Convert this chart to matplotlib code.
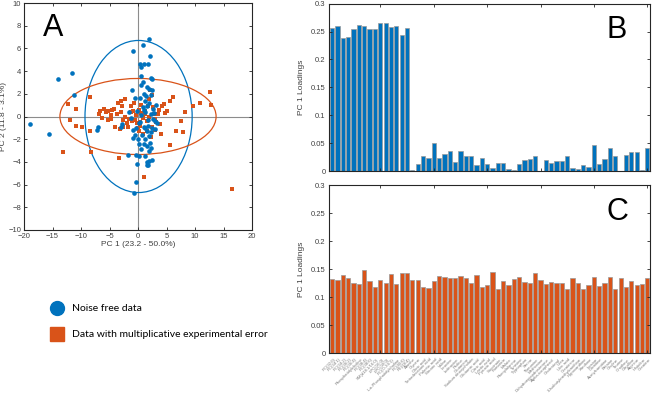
import matplotlib
matplotlib.use("Agg")
import matplotlib.pyplot as plt
from matplotlib.patches import Ellipse
from matplotlib.lines import Line2D
import numpy as np

plt.rcParams['font.family'] = ['Liberation Sans', 'DejaVu Sans']

BLUE = '#0072BD'
ORANGE = '#D95319'
AXC = '#262626'

# ---------------- data ----------------
blue_x = [-19.0, -15.6, -14.1, -11.6, -11.3, -7.1, -7.2, -2.8, -3.0,
          2.0, 0.9, -0.8, 2.1, 0.3, 1.0, 1.8, 0.5, 0.6, 2.2, 2.4, 1.5, 2.0, 2.5, -1.0,
          2.3, 1.0, 0.4, 1.2, 2.0, -0.5, 1.6, 0.8, 2.6, -0.2, 1.3, 2.2, 0.5, -1.2,
          1.8, 2.9, 0.2, 1.0, 2.4, -0.3, 1.5, 3.0, 0.7, 2.0, -0.8, 1.2, 0.2, 1.0,
          2.1, 1.6, 2.3, 0.6, 1.9, -1.8, -0.3, 0.1, 1.3, 2.4, 2.0, 1.6, -0.1, 1.5,
          1.8, -0.4, -0.7, -1.5, 3.2, 3.4, 0.9, 1.4, 2.7, -0.6, 0.3, 1.1, 2.2, 1.7,
          0.0, 2.8, -0.9, 1.2, 0.6]
blue_y = [-0.7, -1.5, 3.3, 3.8, 1.9, -0.9, -1.2, -0.7, -0.9,
          6.8, 6.3, 5.8, 5.3, 4.6, 4.6, 4.6, 4.4, 3.6, 3.4, 3.3, 2.6, 2.4, 2.3, 2.3,
          1.9, 2.0, 1.6, 1.4, 1.2, 1.6, 0.9, 0.8, 0.7, 0.5, 0.4, 0.2, 0.1, -0.1,
          -0.3, -0.4, -0.6, -0.9, -1.0, -1.0, -1.3, -1.1, -1.6, -1.7, -1.9, -2.0, -2.4, -2.4,
          -2.3, -2.6, -2.8, -2.9, -3.0, -3.4, -3.4, -3.5, -3.5, -3.8, -3.9, -4.0, -4.2, -4.3,
          -4.3, -5.8, -6.7, 0.4, 1.0, -0.6, 3.0, 1.8, -0.2, -1.6, -0.5, 0.6, -1.4, -0.8,
          -2.0, 0.3, -1.2, -1.0, 2.8]

orange_x = [12.6, 12.8, 10.9, 9.6, 8.3, 6.1, 5.6, 4.5, 4.2, 3.6, 5.0, 7.5, 7.9, 6.7,
            4.1, 5.6, 3.1, 2.8, 2.5, 3.0, 16.5, 1.1,
            -12.3, -10.9, -12.0, -10.9, -9.9, -8.5, -8.5, -8.3, -13.2, -6.8, -6.6, -6.0,
            -5.6, -5.3, -4.8, -4.5, -4.2, -4.8, -4.0, -3.3, -3.5, -3.0, -2.2, -3.0, -2.6,
            -2.0, -1.2, -0.8, -0.3, -0.5, 0.2, 0.5, 0.9, 1.3, 1.8, 2.1, 2.4, 2.0, 2.6,
            1.5, 0.0, 0.1, 0.3, -1.7, -3.2, -2.7, -6.4, -5.2, 0.8, 1.6, 2.3, -1.3, -0.7,
            -0.2, 3.5, 2.9, 1.9, -2.3, -3.7, -1.0, 0.6, -2.8, 4.8, 3.9, -1.5, 0.4, 1.2]
orange_y = [2.2, 1.0, 1.2, 0.9, 0.4, 1.7, 1.4, 1.1, 0.9, 0.6, 0.5, -0.4, -1.4, -1.3,
            -1.5, -2.5, -0.5, 0.2, -0.9, -1.2, -6.4, -5.3,
            1.1, 0.7, -0.3, -0.8, -0.9, 1.7, -1.3, -3.1, -3.1, 0.2, 0.5, 0.7,
            0.4, 0.5, 0.1, 0.6, 0.7, -0.2, -0.9, -3.7, 1.2, 1.4, 1.5, 0.4, -0.3,
            -0.6, 0.4, 0.5, 0.1, -0.3, 0.6, 0.3, -0.1, 0.5, 0.9, 2.3, 1.9, 1.5, 0.8,
            -0.4, -1.0, -1.3, -0.8, -0.9, -1.1, -0.9, -0.1, -0.3, -1.5, -1.3, -1.8, 0.9, 1.2,
            -0.6, 0.2, -0.2, 0.0, 0.0, 0.2, -0.4, 1.0, 0.9, 0.3, -0.7, -0.2, -0.5, 0.2]

# confidence ellipses: centre x, centre y, half-width, half-height
blue_ellipse = [0.1, 0.0, 9.4, 6.7]
orange_ellipse = [0.0, 0.0, 13.7, 3.35]

loadings_B = [0.2565, 0.2607, 0.2387, 0.2400, 0.2548, 0.2625, 0.2607, 0.2548, 0.2548,
              0.2649, 0.2649, 0.2583, 0.2600, 0.2446, 0.2560,
              0.003, 0.0137, 0.028, 0.024, 0.0506, 0.024, 0.031, 0.036, 0.017, 0.036,
              0.027, 0.027, 0.011, 0.024, 0.0125, 0.0065, 0.0155, 0.0155, 0.005, 0.0035,
              0.013, 0.021, 0.023, 0.027, 0.001, 0.020, 0.016, 0.018, 0.018, 0.027,
              0.007, 0.005, 0.011, 0.008, 0.047, 0.013, 0.023, 0.042, 0.027, 0.0005,
              0.029, 0.034, 0.035, 0.0035, 0.042]

loadings_C = [0.1315, 0.1310, 0.1387, 0.1339, 0.1244, 0.1226, 0.1482, 0.1280, 0.1185,
              0.1298, 0.1250, 0.1405, 0.1226, 0.1429, 0.1429, 0.1304, 0.1310, 0.1173,
              0.1167, 0.1286, 0.1375, 0.1351, 0.1339, 0.1339, 0.1381, 0.1333, 0.1244,
              0.1399, 0.1179, 0.1214, 0.1452, 0.1143, 0.1286, 0.1214, 0.1321, 0.1363,
              0.1268, 0.1244, 0.1423, 0.1310, 0.1238, 0.1268, 0.1250, 0.1256, 0.1137,
              0.1345, 0.1256, 0.1137, 0.1214, 0.1357, 0.1190, 0.1250, 0.1363, 0.1137,
              0.1333, 0.1173, 0.1280, 0.1214, 0.1232, 0.1333]

metabolites = [
    'PC(32:0)', 'PC(34:1)', 'PC(34:2)', 'PC(36:2)', 'PC(36:4)', 'Phosphatidylcholine',
    'PC(38:4)', 'PC(38:6)', 'SM(d18:1/16:0)', 'LPC(16:0)', 'LPC(18:0)', 'PC(O-34:1)',
    'L-a-Phosphatidylcholine', 'PC(40:6)', 'PE(38:4)', 'Alanine', 'Glycine',
    'Oleic acid', 'Tetradecanoic acid', 'Palmitic acid', 'Stearic acid', 'Valine',
    'Leucine', 'Isoleucine', 'Proline', 'Glutamine', 'Sodium deoxycholate',
    'Glutamic acid', 'Citric acid', 'Lactic acid', 'Pyruvic acid', 'Succinate',
    'Fumarate', 'Malate', 'Phenylalanine', 'Tyrosine', 'Tryptophan', 'Serine',
    'Threonine', 'Methionine', 'Dehydroepiandrosterone', 'Alpha-tocopherol',
    'Cholesterol', 'Urea', 'Uric acid', 'Creatinine', '3-Isobutylmethylxanthine',
    'Hypoxanthine', 'Xanthine', 'Inosine', 'Carnitine', 'Acetylcarnitine',
    'Betaine', 'Choline', 'Taurine', 'Ornithine', 'Citrulline', 'Arginine',
    'Histidine', 'Creatine']

tick_pos = [10, 20, 30, 40, 50, 60]

# ---------------- figure ----------------
W, H = 655, 405
fig = plt.figure(figsize=(W / 100, H / 100), dpi=100)

def style_axes(ax):
    for s in ax.spines.values():
        s.set_color(AXC)
        s.set_linewidth(0.8)
    ax.tick_params(direction='in', top=True, right=True, length=2.5, width=0.6,
                   labelsize=5.5, colors=AXC, labelcolor='#404040', pad=2)

# Panel A
axA = fig.add_axes([24 / W, 1 - 230 / H, (252 - 24) / W, (230 - 3) / H])
style_axes(axA)
axA.axhline(0, color='#8c8c8c', lw=0.8, zorder=0)
axA.axvline(0, color='#8c8c8c', lw=0.8, zorder=0)
axA.add_patch(Ellipse((blue_ellipse[0], blue_ellipse[1]), 2 * blue_ellipse[2],
                      2 * blue_ellipse[3], fill=False, ec=BLUE, lw=0.9, zorder=1))
axA.add_patch(Ellipse((orange_ellipse[0], orange_ellipse[1]), 2 * orange_ellipse[2],
                      2 * orange_ellipse[3], fill=False, ec=ORANGE, lw=0.9, zorder=1))
axA.scatter(blue_x, blue_y, s=11, marker='o', color=BLUE, lw=0, zorder=3)
axA.scatter(orange_x, orange_y, s=10, marker='s', color=ORANGE, lw=0, zorder=2)
axA.set_xlim(-20, 20)
axA.set_ylim(-10, 10)
axA.set_xticks(np.arange(-20, 21, 5))
axA.set_yticks(np.arange(-10, 11, 2))
axA.set_xlabel('PC 1 (23.2 - 50.0%)', fontsize=6, color='#404040', labelpad=1)
axA.set_ylabel('PC 2 (11.8 - 3.1%)', fontsize=6, color='#404040', labelpad=1)
axA.text(0.083, 0.955, 'A', transform=axA.transAxes, fontsize=22, va='top',
         ha='left', color='black')

# Panel B
xb = np.arange(1, len(loadings_B) + 1)
axB = fig.add_axes([328.5 / W, 1 - 171.5 / H, 321 / W, 168 / H])
style_axes(axB)
axB.bar(xb, loadings_B, width=0.8, color=BLUE, edgecolor='#9a9a9a', linewidth=0.5)
axB.set_xlim(0.3, 60.4)
axB.set_ylim(0, 0.3)
axB.set_yticks([0, 0.05, 0.1, 0.15, 0.2, 0.25, 0.3])
axB.set_yticklabels(['0', '0.05', '0.1', '0.15', '0.2', '0.25', '0.3'])
axB.set_xticks(tick_pos)
axB.set_xticklabels([])
axB.set_ylabel('PC 1 Loadings', fontsize=6, color='#404040', labelpad=4)
axB.text(0.865, 0.93, 'B', transform=axB.transAxes, fontsize=22, va='top',
         ha='left', color='black')

# Panel C
xc = np.arange(1, len(loadings_C) + 1)
axC = fig.add_axes([328.5 / W, 1 - 353 / H, 321 / W, 168 / H])
style_axes(axC)
axC.bar(xc, loadings_C, width=0.8, color=ORANGE, edgecolor='#9a9a9a', linewidth=0.5)
axC.set_xlim(0.3, 60.4)
axC.set_ylim(0, 0.3)
axC.set_yticks([0, 0.05, 0.1, 0.15, 0.2, 0.25, 0.3])
axC.set_yticklabels(['0', '0.05', '0.1', '0.15', '0.2', '0.25', '0.3'])
axC.set_xticks(tick_pos)
axC.set_xticklabels([])
axC.set_ylabel('PC 1 Loadings', fontsize=6, color='#404040', labelpad=4)
axC.text(0.865, 0.93, 'C', transform=axC.transAxes, fontsize=22, va='top',
         ha='left', color='black')
for xi, name in zip(xc, metabolites):
    axC.text(xi + 0.3, -0.008, name, rotation=45, ha='right', va='top', fontsize=3.1,
             color='#7a7a7a', rotation_mode='anchor', clip_on=False)

# Legend
handles = [Line2D([], [], marker='o', ls='none', color=BLUE, markersize=10),
           Line2D([], [], marker='s', ls='none', color=ORANGE, markersize=10)]
fig.legend(handles, ['Noise free data', 'Data with multiplicative experimental error'],
           loc='upper left', bbox_to_anchor=(47 / W, 1 - 300 / H), frameon=False,
           prop={'family': 'Lato', 'size': 7.5}, labelspacing=1.6, handletextpad=0.8,
           handlelength=1.2, borderaxespad=0)

fig.savefig('out.png', dpi=100)
